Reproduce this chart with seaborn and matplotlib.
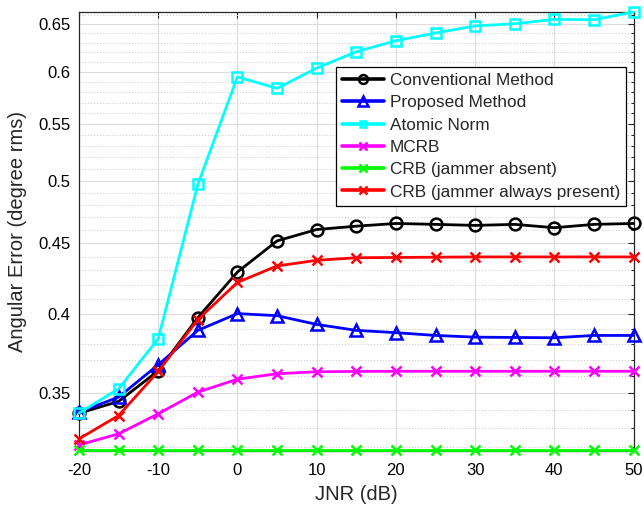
import numpy as np
import pandas as pd
import seaborn as sns
import matplotlib
matplotlib.use("Agg")
import matplotlib.pyplot as plt
from matplotlib.ticker import FixedLocator, NullFormatter, NullLocator

# ---- data ----
jnr = [-20, -15, -10, -5, 0, 5, 10, 15, 20, 25, 30, 35, 40, 45, 50]
conventional = [0.3384, 0.3452, 0.3634, 0.3973, 0.4289, 0.4519, 0.4606, 0.4632, 0.4653,
                0.4646, 0.4638, 0.4646, 0.4620, 0.4646, 0.4653]
proposed = [0.3390, 0.3477, 0.3671, 0.3889, 0.4000, 0.3986, 0.3928, 0.3889, 0.3874,
            0.3856, 0.3845, 0.3843, 0.3841, 0.3856, 0.3856]
atomic = [0.3385, 0.3526, 0.3835, 0.4968, 0.5951, 0.5837, 0.6039, 0.6207, 0.6323,
          0.6405, 0.6482, 0.6506, 0.6553, 0.6550, 0.6635]
mcrb = [0.3209, 0.3269, 0.3381, 0.3506, 0.3583, 0.3616, 0.3628, 0.3630, 0.3631,
        0.3631, 0.3631, 0.3631, 0.3631, 0.3631, 0.3631]
crb_absent = [0.3179, 0.3179, 0.3179, 0.3179, 0.3179, 0.3179, 0.3179, 0.3179, 0.3179,
              0.3179, 0.3179, 0.3179, 0.3179, 0.3179, 0.3179]
crb_present = [0.3242, 0.3371, 0.3630, 0.3960, 0.4215, 0.4333, 0.4374, 0.4393, 0.4395,
               0.4397, 0.4399, 0.4399, 0.4399, 0.4399, 0.4399]

labels = ["Conventional Method", "Proposed Method", "Atomic Norm", "MCRB",
          "CRB (jammer absent)", "CRB (jammer always present)"]
yticks = [0.35, 0.4, 0.45, 0.5, 0.55, 0.6, 0.65]
xticks = [-20, -10, 0, 10, 20, 30, 40, 50]

series = [conventional, proposed, atomic, mcrb, crb_absent, crb_present]
colors = ["#000000", "#0000ff", "#00ffff", "#ff00ff", "#00ff00", "#ff0000"]
markers = ["o", "^", "s", "x", "x", "x"]
msizes = [8.5, 9, 6.5, 7, 7, 7]

sns.set_theme(style="white")
plt.rcParams["font.family"] = ["Liberation Sans", "DejaVu Sans"]

fig = plt.figure(figsize=(6.44, 5.13), dpi=100)
ax = fig.add_axes([79 / 644, 1 - 450.5 / 513, (633.6 - 79) / 644, (450.5 - 12) / 513])

for vals, lab, col, mk, ms in zip(series, labels, colors, markers, msizes):
    df = pd.DataFrame({"JNR": jnr, "err": vals})
    sns.lineplot(data=df, x="JNR", y="err", ax=ax, color=col, label=lab,
                 marker=mk, markersize=ms, markerfacecolor="none",
                 markeredgecolor=col, markeredgewidth=1.8, linewidth=2.0,
                 clip_on=False, zorder=3)

ax.set_yscale("log")
ax.set_xlim(-20, 50)
ax.set_ylim(min(crb_absent), max(atomic))

ax.xaxis.set_major_locator(FixedLocator(xticks))
ax.xaxis.set_minor_locator(NullLocator())
ax.set_xticklabels([f"{t:g}" for t in xticks])
ax.yaxis.set_major_locator(FixedLocator(yticks))
ax.yaxis.set_minor_locator(FixedLocator([v / 100 for v in range(32, 67) if v % 5 != 0]))
ax.yaxis.set_minor_formatter(NullFormatter())
ax.set_yticklabels([f"{t:g}" for t in yticks])

ax.grid(True, which="major", color="#dcdcdc", linestyle="-", linewidth=0.8, zorder=0)
ax.grid(True, which="minor", axis="y", color="#c8c8c8", linestyle=(0, (1, 2)),
        linewidth=0.7, zorder=0)
ax.set_axisbelow(True)

for s in ax.spines.values():
    s.set_color("#262626")
    s.set_linewidth(0.9)
    s.set_visible(True)

ax.tick_params(which="both", direction="in", top=True, right=True, colors="#262626",
               labelcolor="black", labelsize=12)
ax.tick_params(which="major", length=4.5, width=0.8)
ax.tick_params(axis="y", which="major", pad=6)
ax.tick_params(axis="x", which="major", pad=9)
ax.tick_params(which="minor", length=2.5, width=0.7)

ax.set_xlabel("JNR (dB)", fontsize=14.5, labelpad=5)
ax.set_ylabel("Angular Error (degree rms)", fontsize=14.5, labelpad=8)

leg = ax.legend(loc="upper right", bbox_to_anchor=(0.986, 0.8746), fontsize=12.4,
                frameon=True, fancybox=False, edgecolor="black", framealpha=1,
                handlelength=2.4, handletextpad=0.35, labelspacing=0.42,
                borderpad=0.35, borderaxespad=0.0, numpoints=1, markerscale=0.75)
leg.get_frame().set_linewidth(0.9)
for line in leg.get_lines():
    line.set_linewidth(2.6)

fig.savefig("out.png", dpi=100)
